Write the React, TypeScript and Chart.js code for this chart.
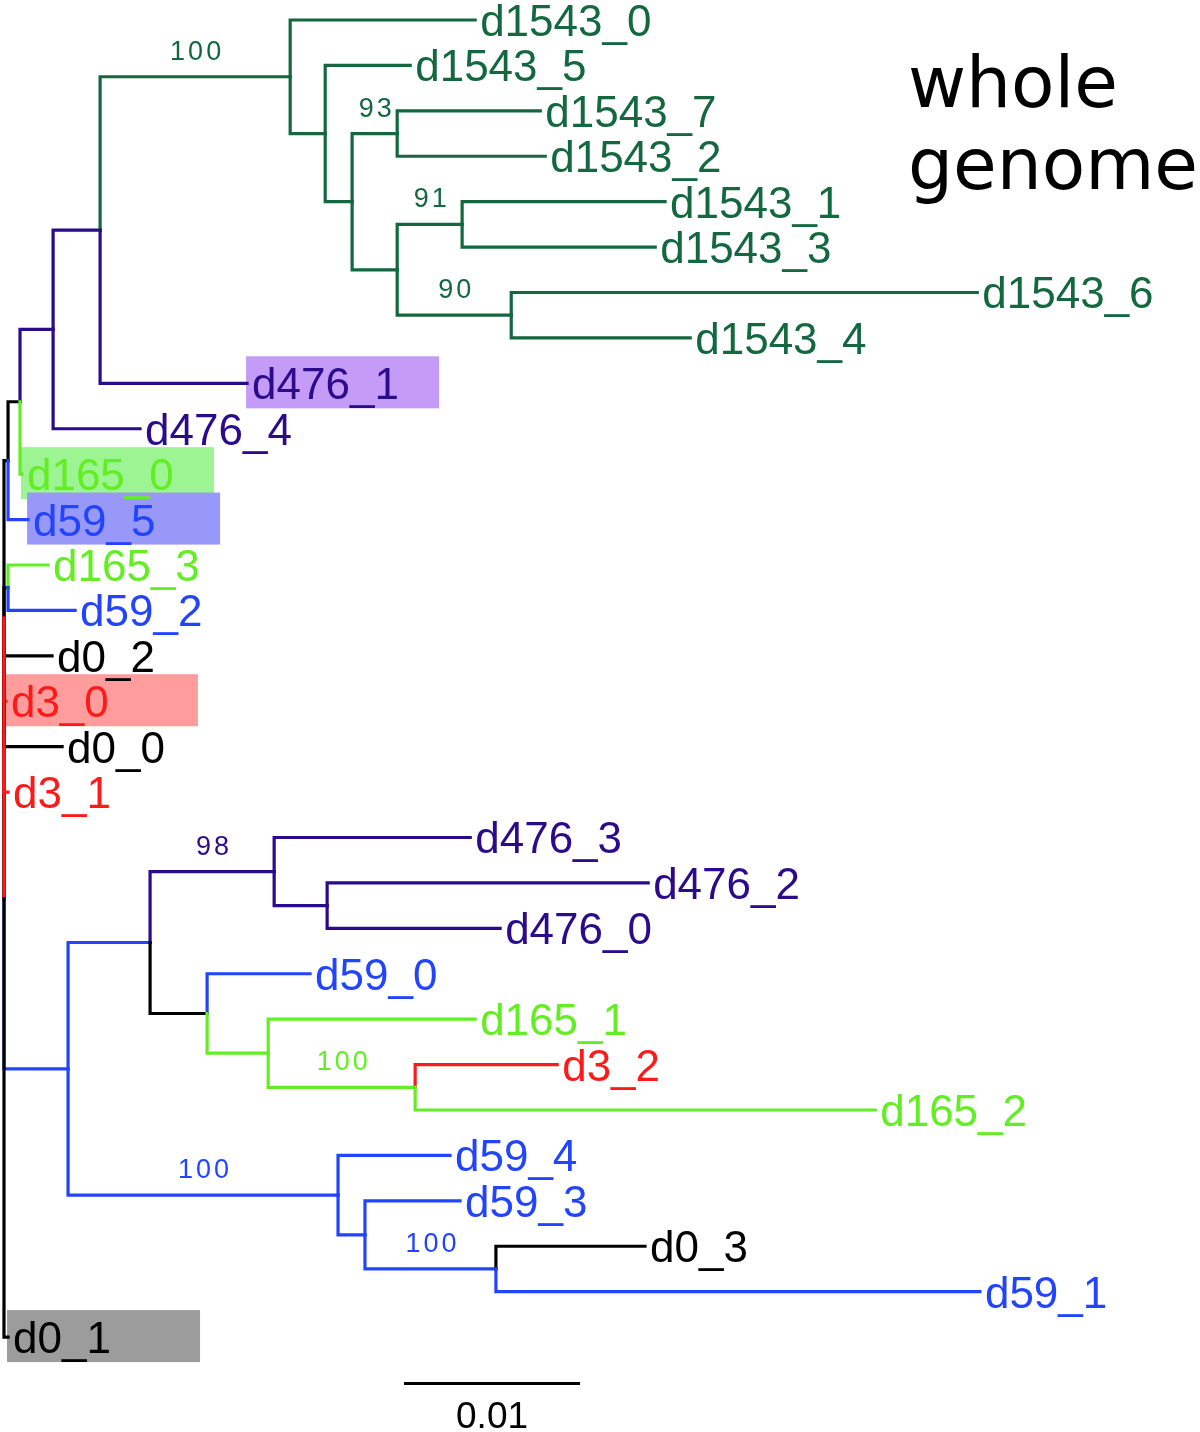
import React, { useEffect, useRef } from "react";
import { Chart, registerables } from "chart.js";

Chart.register(...registerables);

// Leaves, top to bottom (row index = position in this list)
const leafNames = [
  "d1543_0", "d1543_5", "d1543_7", "d1543_2", "d1543_1", "d1543_3", "d1543_6", "d1543_4",
  "d476_1", "d476_4", "d165_0", "d59_5", "d165_3", "d59_2", "d0_2", "d3_0", "d0_0", "d3_1",
  "d476_3", "d476_2", "d476_0", "d59_0", "d165_1", "d3_2", "d165_2", "d59_4", "d59_3", "d0_3",
  "d59_1", "d0_1",
];

// Tree, in pre-order: node id, parent id, branch length (substitutions/site), colour group
const nodeIds = [
  "root", "N1", "Q", "A", "B", "C", "d1543_0", "D", "d1543_5", "E", "F", "d1543_7", "d1543_2",
  "G", "H", "d1543_1", "d1543_3", "I", "d1543_6", "d1543_4", "d476_1", "d476_4", "d165_0", "d59_5",
  "N2", "d165_3", "d59_2", "N3", "d0_2", "d3_0", "d0_0", "d3_1",
  "N4", "N5", "N7", "d476_3", "N9", "d476_2", "d476_0", "N8", "d59_0", "N10", "d165_1", "N11",
  "d3_2", "d165_2", "N6", "d59_4", "N12", "d59_3", "N13", "d0_3", "d59_1", "d0_1",
];
const nodeParents = [
  "", "root", "N1", "Q", "A", "B", "C", "C", "D", "D", "E", "F", "F",
  "E", "G", "H", "H", "G", "I", "I", "B", "A", "Q", "N1",
  "root", "N2", "N2", "root", "N3", "N3", "N3", "N3",
  "root", "N4", "N5", "N7", "N7", "N9", "N9", "N5", "N8", "N8", "N10", "N10",
  "N11", "N11", "N4", "N6", "N6", "N12", "N12", "N13", "N13", "root",
];
const branchLengths = [
  0, 0.00023, 0.00068, 0.00188, 0.00267, 0.0108, 0.01051, 0.00199, 0.00483, 0.00153, 0.00256, 0.00813, 0.00841,
  0.00256, 0.00369, 0.01153, 0.01097, 0.00648, 0.02648, 0.01017, 0.00835, 0.00494, 0.00011, 0.00114,
  0.00023, 0.00227, 0.00381, 0, 0.00273, 0.00011, 0.0033, 0.00023,
  0.00364, 0.00466, 0.00705, 0.01114, 0.00301, 0.01824, 0.00983, 0.00324, 0.00585, 0.00347, 0.01176, 0.00835,
  0.00807, 0.02614, 0.01534, 0.00636, 0.00153, 0.0054, 0.00744, 0.00847, 0.0275, 0.00023,
];
const nodeGroups = [
  "d0", "d0", "d0", "d476", "d476", "d1543", "d1543", "d1543", "d1543", "d1543", "d1543", "d1543", "d1543",
  "d1543", "d1543", "d1543", "d1543", "d1543", "d1543", "d1543", "d476", "d476", "d165", "d59",
  "d0", "d165", "d59", "d3", "d0", "d3", "d0", "d3",
  "d59", "d59", "d476", "d476", "d476", "d476", "d476", "d0", "d59", "d165", "d165", "d165",
  "d3", "d165", "d59", "d59", "d59", "d59", "d59", "d0", "d59", "d0",
];
// Internal node drawn at a fixed row instead of the middle of its children
const pinnedNodes = ["N3"];
const pinnedRows = [13.17];

const groupNames = ["d1543", "d476", "d165", "d59", "d3", "d0"];
const groupColors = ["#13683f", "#2b0b8c", "#62ee22", "#2244ff", "#ff1a1a", "#000000"];

// Bootstrap support values
const supportNodes = ["C", "F", "H", "I", "N7", "N11", "N6", "N13"];
const supportValues = [100, 93, 91, 90, 98, 100, 100, 100];

// Highlighted leaves
const highlightLeaves = ["d476_1", "d165_0", "d59_5", "d3_0", "d0_1"];
const highlightColors = ["#c49cf8", "#9cf592", "#9898f8", "#ff9c9c", "#9c9c9c"];

// Scale bar
const scaleBarStart = 0.02273;
const scaleBarLength = 0.01;
const scaleBarLabel = "0.01";
const scaleBarRow = 30.02;

const titleLines = ["whole", "genome"];

function colorOf(group: string) {
  return groupColors[groupNames.indexOf(group)];
}

function buildTree() {
  const idx: Record<string, number> = {};
  nodeIds.forEach((id, i) => (idx[id] = i));
  const children: number[][] = nodeIds.map(() => []);
  nodeParents.forEach((p, i) => {
    if (p) children[idx[p]].push(i);
  });
  const depth: number[] = new Array(nodeIds.length).fill(0);
  const row: number[] = new Array(nodeIds.length).fill(0);
  const setDepth = (i: number, d: number) => {
    depth[i] = d;
    children[i].forEach((c) => setDepth(c, d + branchLengths[c]));
  };
  setDepth(0, branchLengths[0]);
  const setRow = (i: number): number => {
    if (children[i].length === 0) {
      row[i] = leafNames.indexOf(nodeIds[i]);
    } else {
      const rows = children[i].map(setRow);
      const pin = pinnedNodes.indexOf(nodeIds[i]);
      row[i] = pin >= 0 ? pinnedRows[pin] : (rows[0] + rows[rows.length - 1]) / 2;
    }
    return row[i];
  };
  setRow(0);
  return { idx, children, depth, row };
}

export default function App() {
  const ref = useRef<HTMLCanvasElement | null>(null);

  useEffect(() => {
    if (!ref.current) return;
    const { idx, children, depth, row } = buildTree();

    const datasets: any[] = [];
    const walk = (i: number) => {
      children[i].forEach((c) => {
        datasets.push({
          data: [
            { x: depth[i], y: row[i] },
            { x: depth[i], y: row[c] },
            { x: depth[c], y: row[c] },
          ],
          borderColor: colorOf(nodeGroups[c]),
          borderWidth: 3.2,
          borderJoinStyle: "miter",
          borderCapStyle: "square",
          pointRadius: 0,
          showLine: true,
          fill: false,
          tension: 0,
        });
        walk(c);
      });
    };
    walk(0);
    datasets.push({
      data: [
        { x: scaleBarStart, y: scaleBarRow },
        { x: scaleBarStart + scaleBarLength, y: scaleBarRow },
      ],
      borderColor: "#000000",
      borderWidth: 3,
      pointRadius: 0,
      showLine: true,
      fill: false,
    });
    datasets.forEach((d, i) => (d.order = -i));

    const treePlugin = {
      id: "treeDecor",
      beforeDatasetsDraw(chart: any) {
        const ctx = chart.ctx;
        const xs = chart.scales.x;
        const ys = chart.scales.y;
        ctx.save();
        highlightLeaves.forEach((name, k) => {
          const i = idx[name];
          const x0 = xs.getPixelForValue(depth[i]) - 1;
          const y = ys.getPixelForValue(row[i]);
          ctx.fillStyle = highlightColors[k];
          ctx.fillRect(x0, y - 27, 193, 52);
        });
        ctx.restore();
      },
      afterDatasetsDraw(chart: any) {
        const ctx = chart.ctx;
        const xs = chart.scales.x;
        const ys = chart.scales.y;
        ctx.save();
        // leaf labels
        ctx.font = '44px "Liberation Sans", Arial, sans-serif';
        ctx.textAlign = "left";
        ctx.textBaseline = "alphabetic";
        leafNames.forEach((name) => {
          const i = idx[name];
          ctx.fillStyle = colorOf(nodeGroups[i]);
          ctx.fillText(name, xs.getPixelForValue(depth[i]) + 5, ys.getPixelForValue(row[i]) + 16);
        });
        // support values
        ctx.font = '27px "Liberation Sans", Arial, sans-serif';
        (ctx as any).letterSpacing = "3px";
        ctx.textAlign = "center";
        ctx.textBaseline = "alphabetic";
        supportNodes.forEach((name, k) => {
          const i = idx[name];
          const p = idx[nodeParents[i]];
          const xm = (xs.getPixelForValue(depth[p]) + xs.getPixelForValue(depth[i])) / 2;
          ctx.fillStyle = colorOf(nodeGroups[i]);
          ctx.fillText(String(supportValues[k]), xm + 2, ys.getPixelForValue(row[i]) - 17);
        });
        (ctx as any).letterSpacing = "0px";
        // scale bar label
        ctx.fillStyle = "#000000";
        ctx.font = '37px "Liberation Sans", Arial, sans-serif';
        ctx.textAlign = "center";
        ctx.textBaseline = "alphabetic";
        ctx.fillText(
          scaleBarLabel,
          xs.getPixelForValue(scaleBarStart + scaleBarLength / 2),
          ys.getPixelForValue(scaleBarRow) + 45
        );
        // title
        ctx.font = '71px "DejaVu Sans", sans-serif';
        ctx.textAlign = "left";
        ctx.fillText(titleLines[0], 908, 107);
        ctx.fillText(titleLines[1], 908, 189);
        ctx.restore();
      },
    };

    const chart = new Chart(ref.current, {
      type: "scatter",
      data: { datasets },
      options: {
        responsive: false,
        animation: false,
        layout: { padding: 0 },
        plugins: { legend: { display: false }, tooltip: { enabled: false } },
        scales: {
          x: { type: "linear", display: false, min: -0.000227, max: 0.067955 },
          y: { type: "linear", display: false, reverse: true, min: -0.44, max: 31.09 },
        },
      },
      plugins: [treePlugin],
    } as any);
    return () => chart.destroy();
  }, []);

  return (
    <div style={{ position: "absolute", left: 0, top: 0, width: 1200, height: 1432, background: "#ffffff" }}>
      <canvas ref={ref} width={1200} height={1432} style={{ width: 1200, height: 1432, display: "block" }} />
    </div>
  );
}
